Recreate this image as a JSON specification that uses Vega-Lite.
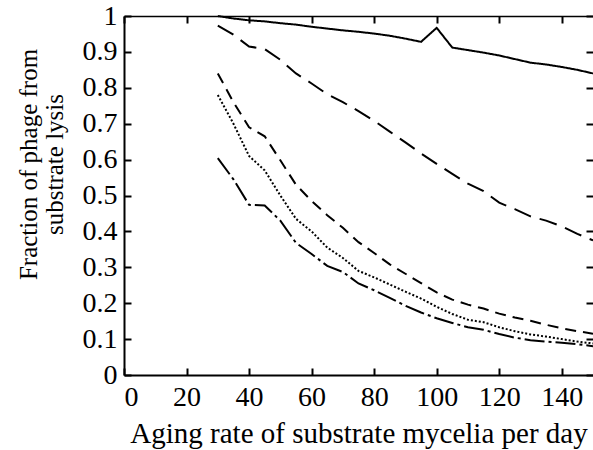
{
  "$schema": "https://vega.github.io/schema/vega-lite/v6.json",
  "autosize": {"type": "none"},
  "padding": {"left": 124, "top": 16, "right": 0, "bottom": 75},
  "width": 469,
  "height": 359,
  "background": "white",
  "config": {
    "view": {"stroke": null},
    "font": "Liberation Serif",
    "axis": {
      "domainColor": "black",
      "domainWidth": 2,
      "tickColor": "black",
      "tickWidth": 2,
      "tickSize": -7,
      "grid": false,
      "labelColor": "black",
      "titleColor": "black",
      "labelFont": "Liberation Serif",
      "titleFont": "Liberation Serif",
      "labelFontSize": 28,
      "titleFontSize": 29,
      "titleFontWeight": "normal"
    }
  },
  "data": {
    "values": [
      {"curve": "a", "rate": 30, "fraction": 1.0},
      {"curve": "a", "rate": 35, "fraction": 0.993},
      {"curve": "a", "rate": 40, "fraction": 0.988},
      {"curve": "a", "rate": 45, "fraction": 0.985},
      {"curve": "a", "rate": 50, "fraction": 0.98},
      {"curve": "a", "rate": 55, "fraction": 0.976},
      {"curve": "a", "rate": 60, "fraction": 0.97},
      {"curve": "a", "rate": 65, "fraction": 0.965},
      {"curve": "a", "rate": 70, "fraction": 0.96},
      {"curve": "a", "rate": 75, "fraction": 0.956},
      {"curve": "a", "rate": 80, "fraction": 0.951},
      {"curve": "a", "rate": 85, "fraction": 0.945},
      {"curve": "a", "rate": 90, "fraction": 0.937},
      {"curve": "a", "rate": 95, "fraction": 0.928},
      {"curve": "a", "rate": 100, "fraction": 0.967},
      {"curve": "a", "rate": 105, "fraction": 0.912},
      {"curve": "a", "rate": 110, "fraction": 0.905},
      {"curve": "a", "rate": 115, "fraction": 0.898},
      {"curve": "a", "rate": 120, "fraction": 0.89},
      {"curve": "a", "rate": 125, "fraction": 0.88},
      {"curve": "a", "rate": 130, "fraction": 0.87},
      {"curve": "a", "rate": 135, "fraction": 0.865},
      {"curve": "a", "rate": 140, "fraction": 0.858},
      {"curve": "a", "rate": 145, "fraction": 0.85},
      {"curve": "a", "rate": 150, "fraction": 0.84},

      {"curve": "b", "rate": 30, "fraction": 0.973},
      {"curve": "b", "rate": 35, "fraction": 0.948},
      {"curve": "b", "rate": 40, "fraction": 0.915},
      {"curve": "b", "rate": 45, "fraction": 0.908},
      {"curve": "b", "rate": 50, "fraction": 0.878},
      {"curve": "b", "rate": 55, "fraction": 0.84},
      {"curve": "b", "rate": 60, "fraction": 0.812},
      {"curve": "b", "rate": 65, "fraction": 0.782},
      {"curve": "b", "rate": 70, "fraction": 0.76},
      {"curve": "b", "rate": 75, "fraction": 0.735},
      {"curve": "b", "rate": 80, "fraction": 0.708},
      {"curve": "b", "rate": 85, "fraction": 0.678},
      {"curve": "b", "rate": 90, "fraction": 0.648},
      {"curve": "b", "rate": 95, "fraction": 0.617},
      {"curve": "b", "rate": 100, "fraction": 0.588},
      {"curve": "b", "rate": 105, "fraction": 0.56},
      {"curve": "b", "rate": 110, "fraction": 0.533},
      {"curve": "b", "rate": 115, "fraction": 0.512},
      {"curve": "b", "rate": 120, "fraction": 0.48},
      {"curve": "b", "rate": 125, "fraction": 0.462},
      {"curve": "b", "rate": 130, "fraction": 0.442},
      {"curve": "b", "rate": 135, "fraction": 0.43},
      {"curve": "b", "rate": 140, "fraction": 0.414},
      {"curve": "b", "rate": 145, "fraction": 0.393},
      {"curve": "b", "rate": 150, "fraction": 0.375},

      {"curve": "c", "rate": 30, "fraction": 0.84},
      {"curve": "c", "rate": 35, "fraction": 0.76},
      {"curve": "c", "rate": 40, "fraction": 0.69},
      {"curve": "c", "rate": 45, "fraction": 0.665},
      {"curve": "c", "rate": 50, "fraction": 0.598},
      {"curve": "c", "rate": 55, "fraction": 0.53},
      {"curve": "c", "rate": 60, "fraction": 0.485},
      {"curve": "c", "rate": 65, "fraction": 0.445},
      {"curve": "c", "rate": 70, "fraction": 0.41},
      {"curve": "c", "rate": 75, "fraction": 0.37},
      {"curve": "c", "rate": 80, "fraction": 0.34},
      {"curve": "c", "rate": 85, "fraction": 0.308},
      {"curve": "c", "rate": 90, "fraction": 0.282},
      {"curve": "c", "rate": 95, "fraction": 0.256},
      {"curve": "c", "rate": 100, "fraction": 0.23},
      {"curve": "c", "rate": 105, "fraction": 0.21},
      {"curve": "c", "rate": 110, "fraction": 0.196},
      {"curve": "c", "rate": 115, "fraction": 0.185},
      {"curve": "c", "rate": 120, "fraction": 0.171},
      {"curve": "c", "rate": 125, "fraction": 0.16},
      {"curve": "c", "rate": 130, "fraction": 0.151},
      {"curve": "c", "rate": 135, "fraction": 0.14},
      {"curve": "c", "rate": 140, "fraction": 0.13},
      {"curve": "c", "rate": 145, "fraction": 0.122},
      {"curve": "c", "rate": 150, "fraction": 0.115},

      {"curve": "d", "rate": 30, "fraction": 0.78},
      {"curve": "d", "rate": 35, "fraction": 0.7},
      {"curve": "d", "rate": 40, "fraction": 0.61},
      {"curve": "d", "rate": 45, "fraction": 0.57},
      {"curve": "d", "rate": 50, "fraction": 0.5},
      {"curve": "d", "rate": 55, "fraction": 0.435},
      {"curve": "d", "rate": 60, "fraction": 0.4},
      {"curve": "d", "rate": 65, "fraction": 0.355},
      {"curve": "d", "rate": 70, "fraction": 0.326},
      {"curve": "d", "rate": 75, "fraction": 0.29},
      {"curve": "d", "rate": 80, "fraction": 0.272},
      {"curve": "d", "rate": 85, "fraction": 0.252},
      {"curve": "d", "rate": 90, "fraction": 0.232},
      {"curve": "d", "rate": 95, "fraction": 0.213},
      {"curve": "d", "rate": 100, "fraction": 0.19},
      {"curve": "d", "rate": 105, "fraction": 0.17},
      {"curve": "d", "rate": 110, "fraction": 0.154},
      {"curve": "d", "rate": 115, "fraction": 0.147},
      {"curve": "d", "rate": 120, "fraction": 0.133},
      {"curve": "d", "rate": 125, "fraction": 0.122},
      {"curve": "d", "rate": 130, "fraction": 0.113},
      {"curve": "d", "rate": 135, "fraction": 0.107},
      {"curve": "d", "rate": 140, "fraction": 0.1},
      {"curve": "d", "rate": 145, "fraction": 0.093},
      {"curve": "d", "rate": 150, "fraction": 0.088},

      {"curve": "e", "rate": 30, "fraction": 0.604},
      {"curve": "e", "rate": 35, "fraction": 0.545},
      {"curve": "e", "rate": 40, "fraction": 0.474},
      {"curve": "e", "rate": 45, "fraction": 0.472},
      {"curve": "e", "rate": 50, "fraction": 0.43},
      {"curve": "e", "rate": 55, "fraction": 0.368},
      {"curve": "e", "rate": 60, "fraction": 0.337},
      {"curve": "e", "rate": 65, "fraction": 0.304},
      {"curve": "e", "rate": 70, "fraction": 0.287},
      {"curve": "e", "rate": 75, "fraction": 0.255},
      {"curve": "e", "rate": 80, "fraction": 0.236},
      {"curve": "e", "rate": 85, "fraction": 0.215},
      {"curve": "e", "rate": 90, "fraction": 0.193},
      {"curve": "e", "rate": 95, "fraction": 0.174},
      {"curve": "e", "rate": 100, "fraction": 0.158},
      {"curve": "e", "rate": 105, "fraction": 0.145},
      {"curve": "e", "rate": 110, "fraction": 0.133},
      {"curve": "e", "rate": 115, "fraction": 0.126},
      {"curve": "e", "rate": 120, "fraction": 0.114},
      {"curve": "e", "rate": 125, "fraction": 0.104},
      {"curve": "e", "rate": 130, "fraction": 0.097},
      {"curve": "e", "rate": 135, "fraction": 0.093},
      {"curve": "e", "rate": 140, "fraction": 0.09},
      {"curve": "e", "rate": 145, "fraction": 0.086},
      {"curve": "e", "rate": 150, "fraction": 0.08}
    ]
  },
  "resolve": {"axis": {"x": "independent", "y": "independent"}},
  "layer": [
    {
      "mark": {"type": "line", "color": "black", "strokeWidth": 2},
      "encoding": {
        "x": {
          "field": "rate",
          "type": "quantitative",
          "scale": {"domain": [0, 150], "nice": false},
          "axis": {
            "orient": "bottom",
            "values": [0, 20, 40, 60, 80, 100, 120, 140],
            "labelPadding": 15,
            "labelDx": 3,
            "title": "Aging rate of substrate mycelia per day",
            "titlePadding": 8
          }
        },
        "y": {
          "field": "fraction",
          "type": "quantitative",
          "scale": {"domain": [0, 1], "nice": false},
          "axis": {
            "orient": "left",
            "values": [0, 0.1, 0.2, 0.3, 0.4, 0.5, 0.6, 0.7, 0.8, 0.9, 1],
            "format": "~g",
            "labelPadding": 14,
            "title": ["Fraction of phage from", "substrate lysis"],
            "titleFontSize": 25,
            "titleAngle": -90,
            "titleAlign": "center",
            "titleBaseline": "alphabetic",
            "titleLineHeight": 26,
            "titleX": -88,
            "titleY": 148
          }
        },
        "detail": {"field": "curve"},
        "strokeDash": {
          "field": "curve",
          "type": "nominal",
          "legend": null,
          "scale": {
            "domain": ["a", "b", "c", "d", "e"],
            "range": [[1, 0], [18, 9], [11, 7], [2, 2], [20, 4, 3, 4]]
          }
        }
      }
    },
    {
      "mark": {"type": "line", "strokeOpacity": 0},
      "encoding": {
        "x": {
          "field": "rate",
          "type": "quantitative",
          "axis": {
            "orient": "top",
            "values": [0, 20, 40, 60, 80, 100, 120, 140],
            "domainWidth": 1.5,
            "labels": false,
            "title": null
          }
        },
        "y": {
          "field": "fraction",
          "type": "quantitative",
          "axis": {
            "orient": "right",
            "values": [0, 0.1, 0.2, 0.3, 0.4, 0.5, 0.6, 0.7, 0.8, 0.9, 1],
            "domain": false,
            "labels": false,
            "title": null
          }
        },
        "detail": {"field": "curve"}
      }
    }
  ]
}
